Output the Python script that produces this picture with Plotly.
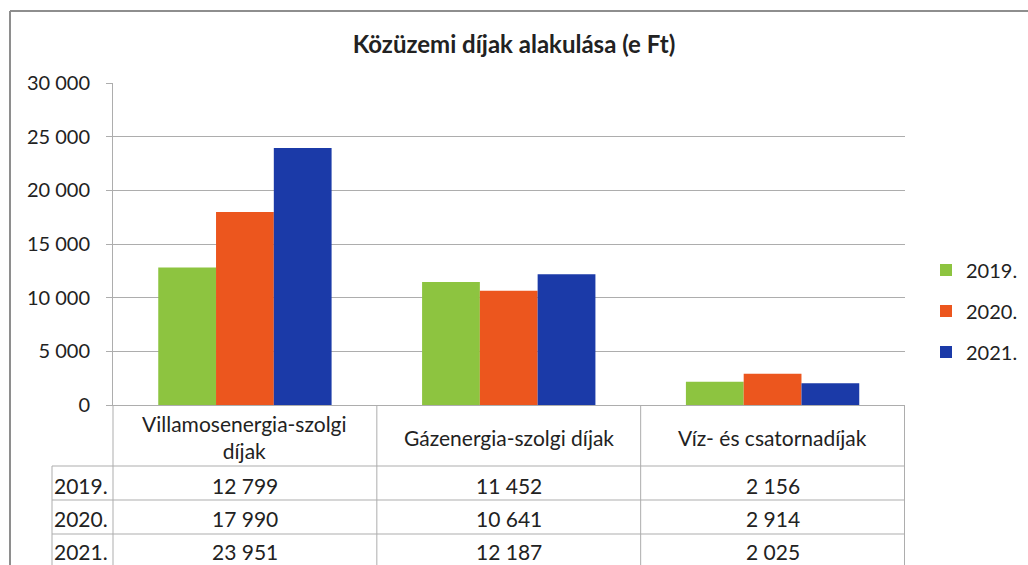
import plotly.graph_objects as go

categories = ["Villamosenergia-szolgi díjak", "Gázenergia-szolgi díjak", "Víz- és csatornadíjak"]
header_labels = ["Villamosenergia-szolgi<br>díjak", "Gázenergia-szolgi díjak", "Víz- és csatornadíjak"]
years = ["2019.", "2020.", "2021."]
values_2019 = [12799, 11452, 2156]
values_2020 = [17990, 10641, 2914]
values_2021 = [23951, 12187, 2025]
series = [values_2019, values_2020, values_2021]
colors = ["#8DC440", "#EC561E", "#1B3AA8"]
y_ticks = [0, 5000, 10000, 15000, 20000, 25000, 30000]

FONT = "Lato"
TXT = "#222222"
LINE = "#ADADAD"

fig = go.Figure()
for yr, vals, col in zip(years, series, colors):
    fig.add_trace(go.Bar(name=yr, x=categories, y=vals, marker_color=col,
                         marker_line_width=0, legendgroup=yr))

def fmt(v):
    return f"{v:,}".replace(",", " ")

# plot area: left 113, right 905, top 83, bottom 405 (pixels)
H = 322.0
def py(pix):
    return (405 - pix) / H
def px(pix):
    return (pix - 113) / 792.0

TSIZE = 21
ann = []
for c, lab in zip(categories, header_labels):
    ann.append(dict(x=c, y=py(437), xref="x", yref="paper", text=lab, showarrow=False,
                    xanchor="center", yanchor="middle",
                    font=dict(family=FONT, size=TSIZE, color=TXT), align="center"))
row_y = [485, 518, 551]
for yr, vals, ry in zip(years, series, row_y):
    ann.append(dict(x=px(81), y=py(ry), xref="paper", yref="paper", text=yr, showarrow=False,
                    xanchor="center", yanchor="middle",
                    font=dict(family=FONT, size=TSIZE, color=TXT)))
    for c, v in zip(categories, vals):
        ann.append(dict(x=c, y=py(ry), xref="x", yref="paper", text=fmt(v), showarrow=False,
                        xanchor="center", yanchor="middle",
                        font=dict(family=FONT, size=TSIZE, color=TXT)))

shapes = []
bottom = py(575)
for hy in [466, 500, 534]:
    shapes.append(dict(type="line", xref="paper", yref="paper", x0=px(52), x1=1.0,
                       y0=py(hy), y1=py(hy), line=dict(color=LINE, width=1)))
shapes.append(dict(type="line", xref="paper", yref="paper", x0=px(52), x1=px(52),
                   y0=py(466), y1=bottom, line=dict(color=LINE, width=1)))
shapes.append(dict(type="line", xref="paper", yref="paper", x0=0, x1=0,
                   y0=0, y1=bottom, line=dict(color=LINE, width=1)))
for xv in [0.5, 1.5, 2.5]:
    shapes.append(dict(type="line", xref="x", yref="paper", x0=xv, x1=xv,
                       y0=0, y1=bottom, line=dict(color=LINE, width=1)))
# page frame
shapes.append(dict(type="line", xref="paper", yref="paper", x0=px(10), x1=px(1040),
                   y0=py(11), y1=py(11), line=dict(color="#8E8E8E", width=2)))
shapes.append(dict(type="line", xref="paper", yref="paper", x0=px(10), x1=px(10),
                   y0=py(11), y1=bottom, line=dict(color="#8E8E8E", width=2)))

fig.update_layout(
    width=1028, height=565,
    margin=dict(l=113, r=123, t=83, b=160, autoexpand=False),
    paper_bgcolor="white", plot_bgcolor="white",
    separators=", ",
    barmode="group", bargap=0.343, bargroupgap=0,
    title=dict(text="<b>Közüzemi díjak alakulása (e Ft)</b>", x=0.5, xanchor="center",
               y=1 - 45 / 565, yanchor="middle",
               font=dict(family=FONT, size=24, color=TXT)),
    font=dict(family=FONT, size=TSIZE, color=TXT),
    legend=dict(xref="container", x=926 / 1028, xanchor="left", y=py(311), yanchor="middle",
                font=dict(family=FONT, size=20, color=TXT), tracegroupgap=12,
                itemwidth=30, bgcolor="rgba(0,0,0,0)"),
    showlegend=True,
    annotations=ann, shapes=shapes,
)
fig.update_xaxes(showticklabels=False, showgrid=False, showline=True, linecolor=LINE,
                 linewidth=1, ticks="", zeroline=False)
fig.update_yaxes(range=[0, 30000], tickvals=y_ticks, tickformat=",d", showgrid=True,
                 gridcolor=LINE, gridwidth=1, showline=True, linecolor=LINE, linewidth=1,
                 ticks="outside", ticklen=6, tickcolor=LINE, zeroline=False,
                 ticklabelstandoff=12,
                 tickfont=dict(family=FONT, size=20, color=TXT))

fig.write_html("out.html", config={"displayModeBar": False},
               post_script="document.body.style.margin='0';document.body.style.overflow='hidden';")
